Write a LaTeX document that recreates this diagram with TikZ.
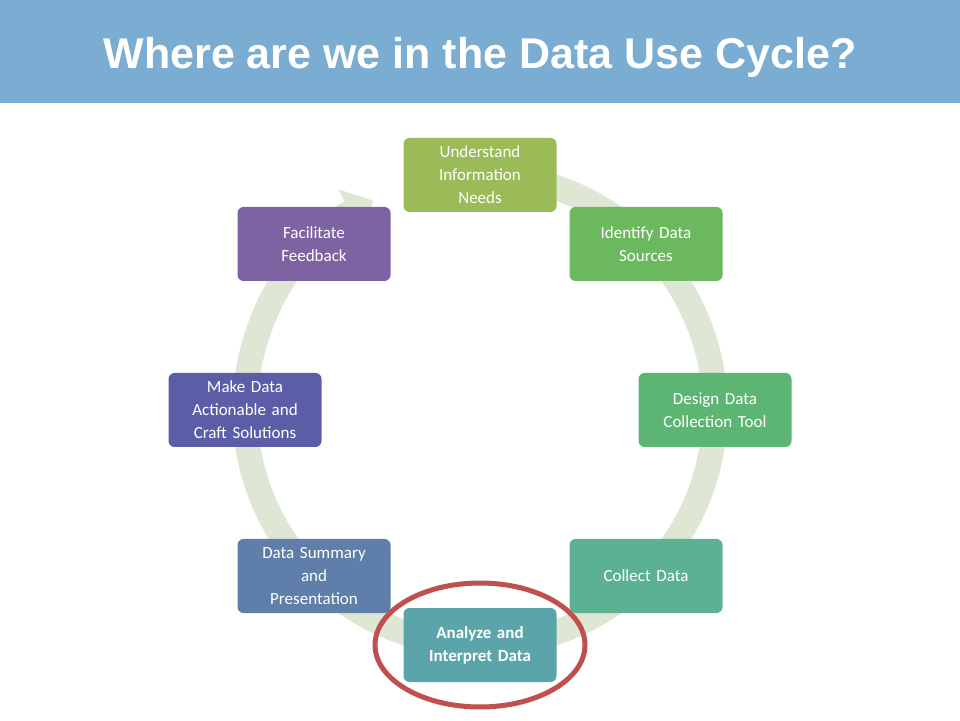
\documentclass[tikz,border=0pt]{standalone}
\usepackage{fontspec}
\setmainfont{Carlito}
\newfontfamily\titlefont{Liberation Sans}
\usetikzlibrary{arrows.meta}
\definecolor{barblue}{HTML}{7BADD3}
\definecolor{ringc}{HTML}{DDE7D3}
\definecolor{cA}{HTML}{9BBB59}
\definecolor{cB}{HTML}{6BB85E}
\definecolor{cC}{HTML}{5DB574}
\definecolor{cD}{HTML}{5CB192}
\definecolor{cE}{HTML}{5BA4AA}
\definecolor{cF}{HTML}{5F7EA9}
\definecolor{cG}{HTML}{5B5EA7}
\definecolor{cH}{HTML}{7E63A3}
\definecolor{redc}{HTML}{C0504D}
\tikzset{stepbox/.style={rounded corners=6pt, minimum width=153pt, minimum height=74pt, text width=140pt, align=center, text=white, font=\fontsize{17pt}{23pt}\selectfont, inner sep=0pt}}
\begin{document}
\begin{tikzpicture}[x=1pt,y=1pt]
\useasboundingbox (0,0) rectangle (960,720);
\fill[white] (0,0) rectangle (960,720);
\fill[barblue] (0,617) rectangle (960,720);
\node[text=white, font=\titlefont\bfseries\fontsize{43pt}{50pt}\selectfont] (title) at (480,663) {Where are we in the Data Use Cycle?};
\draw[ringc, line width=25pt, -{Triangle[width=50pt,length=26pt]}] (480,310) ++(82:235) arc[start angle=82, end angle=-243, radius=235];
\node[stepbox, fill=cA] (a) at (480,545) {Understand\\Information\\Needs};
\node[stepbox, fill=cB] (b) at (646,476) {Identify Data\\Sources};
\node[stepbox, fill=cC] (c) at (715,310) {Design Data\\Collection Tool};
\node[stepbox, fill=cD] (d) at (646,144) {Collect Data};
\node[stepbox, fill=cE, font=\bfseries\fontsize{17pt}{23pt}\selectfont] (e) at (480,75) {Analyze and\\Interpret Data};
\node[stepbox, fill=cF] (f) at (314,144) {Data Summary\\and\\Presentation};
\node[stepbox, fill=cG] (g) at (245,310) {Make Data\\Actionable and\\Craft Solutions};
\node[stepbox, fill=cH] (h) at (314,476) {Facilitate\\Feedback};
\draw[redc, line width=5pt] (e.center) ellipse[x radius=105, y radius=62];
\end{tikzpicture}
\end{document}
